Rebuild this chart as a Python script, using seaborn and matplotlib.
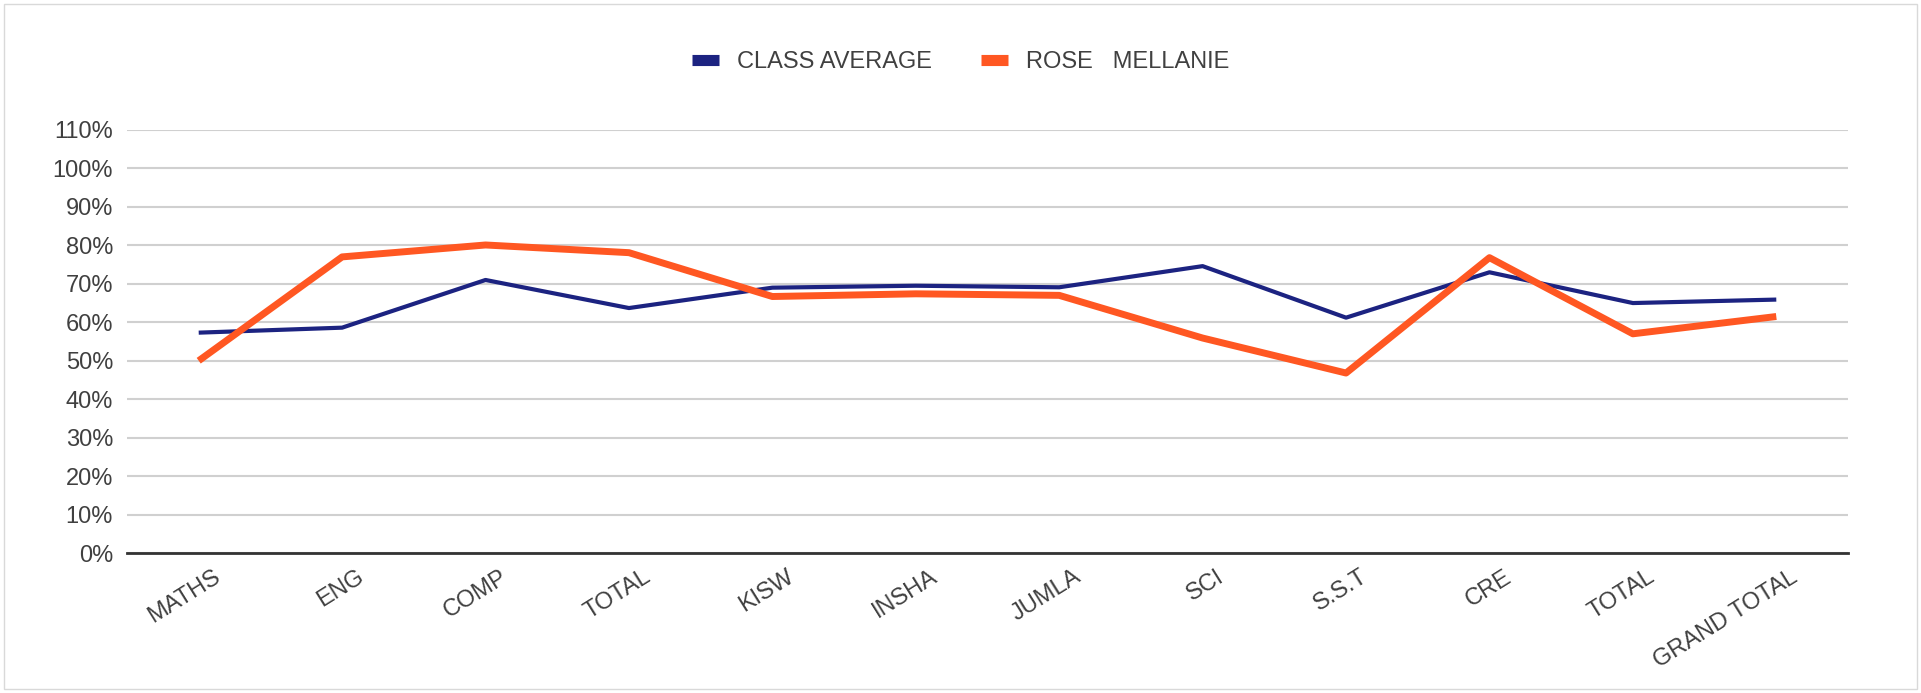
import pandas as pd
import seaborn as sns
import matplotlib.pyplot as plt
from matplotlib.patches import Rectangle
from matplotlib.ticker import PercentFormatter
import matplotlib.transforms as mtransforms

# subjects on the x axis
subjects = ['MATHS', 'ENG', 'COMP', 'TOTAL', 'KISW', 'INSHA', 'JUMLA',
            'SCI', 'S.S.T', 'CRE', 'TOTAL ', 'GRAND TOTAL']
tick_labels = ['MATHS', 'ENG', 'COMP', 'TOTAL', 'KISW', 'INSHA', 'JUMLA',
               'SCI', 'S.S.T', 'CRE', 'TOTAL', 'GRAND TOTAL']

# percentages
class_average = [57.3, 58.6, 71.0, 63.7, 69.0, 69.5, 69.1, 74.6, 61.2, 73.0, 65.0, 65.9]
rose_mellanie = [50.0, 77.0, 80.1, 78.1, 66.7, 67.4, 67.0, 55.9, 46.8, 76.8, 57.0, 61.5]

series_names = ['CLASS AVERAGE', 'ROSE   MELLANIE']
colors = ['#1c2381', '#ff5722']
widths = [3, 5]

df = pd.DataFrame({
    'Subject': subjects * 2,
    'Score': [v / 100 for v in class_average + rose_mellanie],
    'Series': [series_names[0]] * len(subjects) + [series_names[1]] * len(subjects),
})
df['pos'] = list(range(len(subjects))) * 2

sns.set_style("white")
plt.rcParams['font.family'] = ['Liberation Sans', 'DejaVu Sans']

fig = plt.figure(figsize=(19.21, 6.93), dpi=100)
ax = fig.add_axes([127 / 1921, 1 - 553 / 693, (1848 - 127) / 1921, (553 - 130) / 693])

for name, col, lw in zip(series_names, colors, widths):
    sub = df[df['Series'] == name]
    sns.lineplot(x='pos', y='Score', data=sub, color=col, linewidth=lw,
                 label=name, ax=ax, sort=False, solid_capstyle='butt')

ax.set_xlim(-0.5, len(subjects) - 0.5)
ax.set_ylim(0, 1.1)
ax.set_yticks([i / 10 for i in range(12)])
ax.yaxis.set_major_formatter(PercentFormatter(1.0, decimals=0))
ax.set_xticks(range(len(subjects)))
ax.set_xticklabels(tick_labels)

ax.grid(axis='y', color='#d0d0d0', linewidth=1.5)
ax.grid(axis='x', visible=False)
ax.set_axisbelow(True)
for s in ['top', 'right', 'left']:
    ax.spines[s].set_visible(False)
ax.spines['bottom'].set_color('#333333')
ax.spines['bottom'].set_linewidth(2)
ax.tick_params(axis='both', length=0, colors='#404040', labelsize=17)
ax.tick_params(axis='y', pad=10)
ax.set_xlabel('')
ax.set_ylabel('')

offset = mtransforms.ScaledTranslation(14 / 100, -8 / 100, fig.dpi_scale_trans)
for lab in ax.get_xticklabels():
    lab.set_rotation(32)
    lab.set_ha('right')
    lab.set_va('top')
    lab.set_rotation_mode('anchor')
    lab.set_transform(lab.get_transform() + offset)

leg = ax.legend(loc='center', bbox_to_anchor=(0.5, 1 - 62 / 693),
                bbox_transform=fig.transFigure, ncol=2, frameon=False,
                fontsize=17, handlelength=1.15, columnspacing=2.1, handletextpad=0.75)
for h, col in zip(leg.legend_handles, colors):
    h.set_linewidth(8)
    h.set_color(col)
    h.set_solid_capstyle('butt')
for t in leg.get_texts():
    t.set_color('#404040')

fig.patches.append(Rectangle((4 / 1921, 4 / 693), 1 - 8 / 1921, 1 - 8 / 693,
                             transform=fig.transFigure, fill=False,
                             edgecolor='#d9d9d9', linewidth=1))

fig.savefig('out.png', dpi=100)
